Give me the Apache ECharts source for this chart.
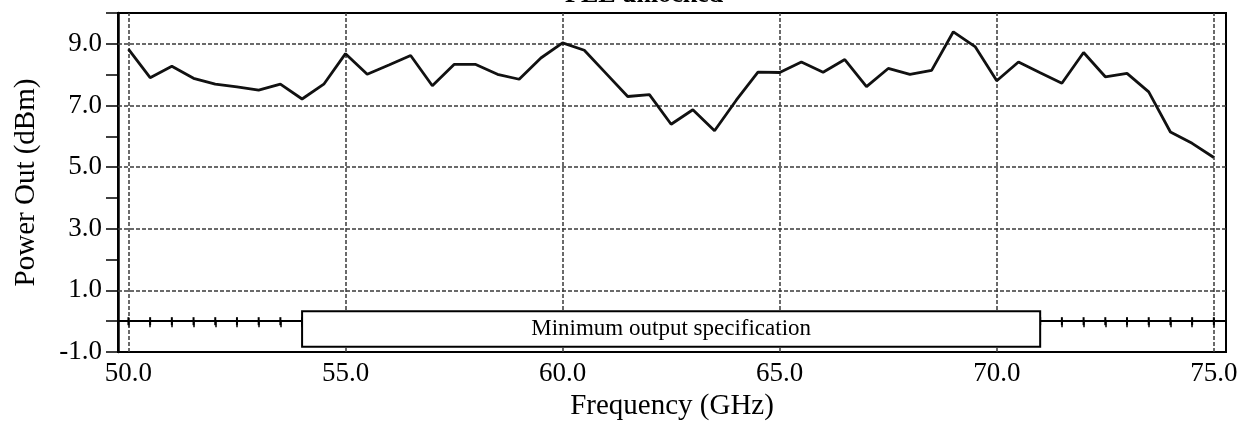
<!DOCTYPE html>
<html>
<head>
<meta charset="utf-8">
<script src="https://cdn.jsdelivr.net/npm/echarts@6/dist/echarts.min.js"></script>
<style>
  html, body { margin: 0; padding: 0; background: #fff; }
  #chart { width: 1251px; height: 426px; }
</style>
</head>
<body>
<div id="chart"></div>
<script>
// frequency points (GHz), one every 0.5 GHz
const freqs = [
  50.0, 50.5, 51.0, 51.5, 52.0, 52.5, 53.0, 53.5, 54.0, 54.5,
  55.0, 55.5, 56.0, 56.5, 57.0, 57.5, 58.0, 58.5, 59.0, 59.5,
  60.0, 60.5, 61.0, 61.5, 62.0, 62.5, 63.0, 63.5, 64.0, 64.5,
  65.0, 65.5, 66.0, 66.5, 67.0, 67.5, 68.0, 68.5, 69.0, 69.5,
  70.0, 70.5, 71.0, 71.5, 72.0, 72.5, 73.0, 73.5, 74.0, 74.5,
  75.0
]
// measured power out (dBm)
const powerOut = [
  8.83, 7.90, 8.27, 7.88, 7.69, 7.60, 7.50, 7.69, 7.21, 7.69,
  8.68, 8.01, 8.31, 8.62, 7.64, 8.33, 8.33, 8.01, 7.85, 8.54,
  9.03, 8.79, 8.04, 7.29, 7.35, 6.39, 6.86, 6.18, 7.17, 8.08,
  8.07, 8.41, 8.08, 8.49, 7.61, 8.20, 8.01, 8.14, 9.39, 8.91,
  7.80, 8.41, 8.06, 7.72, 8.72, 7.93, 8.04, 7.44, 6.14, 5.77,
  5.31
]
const specLevel = 0            // minimum output spec (dBm)
const specBoxFreq = [54.0, 71.0]
const specBoxPower = [-0.83, 0.32]
const specLabel = 'Minimum output specification'

const xLabels = [50, 55, 60, 65, 70, 75]
const yLabels = [-1, 1, 3, 5, 7, 9]

const serif = 'Liberation Serif'
const gridStyle = { color: '#3a3a3a', width: 1.5, type: [4, 2] }

const chart = echarts.init(document.getElementById('chart'))

chart.setOption({
  animation: false,
  backgroundColor: '#fff',
  title: {
    text: 'PLL unlocked',
    left: 560,
    top: -23,
    textStyle: { fontFamily: serif, fontSize: 26, fontWeight: 'bold', color: '#000' }
  },
  grid: {
    left: 118, right: 25, top: 13, bottom: 71,
    show: true, borderColor: '#000', borderWidth: 2, backgroundColor: 'transparent'
  },
  xAxis: {
    type: 'value',
    min: 49.76,
    max: 75.28,
    name: 'Frequency (GHz)',
    nameLocation: 'middle',
    nameGap: 40,
    nameTextStyle: { fontFamily: serif, fontSize: 29, color: '#000' },
    axisLine: { show: true, lineStyle: { color: '#000', width: 2 } },
    axisTick: { show: true, customValues: freqs, length: 6, lineStyle: { color: '#000', width: 1.5 } },
    axisLabel: {
      customValues: xLabels,
      formatter: v => v.toFixed(1),
      margin: 8,
      fontFamily: serif, fontSize: 27, color: '#000'
    },
    splitLine: { show: false }
  },
  yAxis: {
    type: 'value',
    min: -1,
    max: 10,
    interval: 1,
    name: 'Power Out (dBm)',
    nameLocation: 'middle',
    nameGap: 77,
    nameTextStyle: { fontFamily: serif, fontSize: 29, color: '#000' },
    axisLine: { show: true, lineStyle: { color: '#000', width: 2.5 } },
    axisTick: { show: true, length: 12, lineStyle: { color: '#000', width: 1.5 } },
    axisLabel: {
      customValues: yLabels,
      formatter: v => v.toFixed(1),
      margin: 16,
      fontFamily: serif, fontSize: 27, color: '#000'
    },
    splitLine: { show: false }
  },
  series: [
    {
      name: 'spec',
      type: 'line',
      z: 2,
      data: freqs.map(f => [f, specLevel]),
      symbol: 'rect',
      symbolSize: [2, 8],
      itemStyle: { color: '#000' },
      lineStyle: { color: '#000', width: 1.5 },
      markLine: {
        silent: true,
        z: 1,
        symbol: 'none',
        label: { show: false },
        data: [
          { yAxis: specLevel, lineStyle: { color: '#000', width: 1.5, type: 'solid' } },
          ...yLabels.slice(1).map(v => ({ yAxis: v, lineStyle: gridStyle })),
          ...xLabels.map(v => ({ xAxis: v, lineStyle: gridStyle }))
        ]
      }
    },
    {
      name: 'spec box',
      type: 'line',
      z: 5,
      data: [],
      markArea: {
        silent: true,
        z: 10,
        itemStyle: { color: '#fff', borderColor: '#000', borderWidth: 2, opacity: 1 },
        label: {
          show: true,
          position: 'inside',
          formatter: specLabel,
          fontFamily: serif, fontSize: 23, color: '#000'
        },
        data: [[
          { xAxis: specBoxFreq[0], yAxis: specBoxPower[0] },
          { xAxis: specBoxFreq[1], yAxis: specBoxPower[1] }
        ]]
      }
    },
    {
      name: 'power out',
      type: 'line',
      z: 4,
      data: freqs.map((f, i) => [f, powerOut[i]]),
      showSymbol: false,
      symbol: 'none',
      lineStyle: { color: '#111', width: 2.8 }
    }
  ]
})
</script>
</body>
</html>
